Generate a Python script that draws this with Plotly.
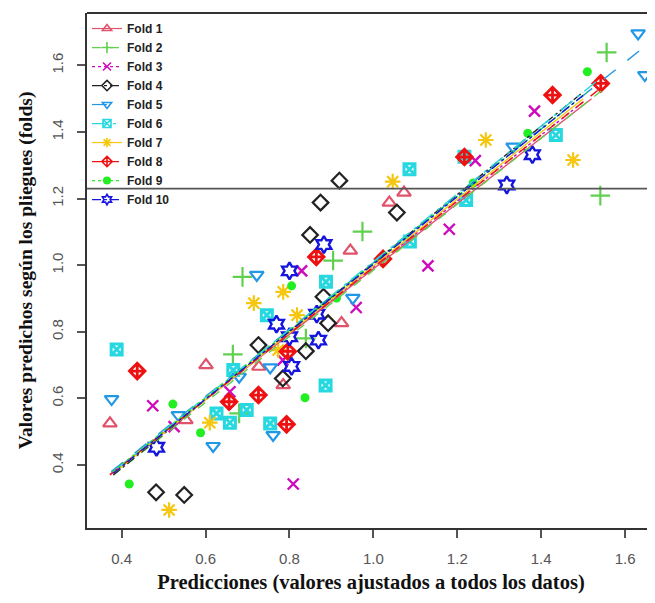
import plotly.graph_objects as go

fold_names = ["Fold 1", "Fold 2", "Fold 3", "Fold 4", "Fold 5",
              "Fold 6", "Fold 7", "Fold 8", "Fold 9", "Fold 10"]

fold1_x = [0.372, 0.553, 0.601, 0.727, 0.785, 0.924, 0.945, 1.038, 1.073]
fold1_y = [0.525, 0.535, 0.700, 0.695, 0.640, 0.826, 1.044, 1.188, 1.218]

fold2_x = [0.665, 0.680, 0.688, 0.839, 0.904, 0.974, 1.541, 1.556]
fold2_y = [0.732, 0.555, 0.965, 0.780, 1.014, 1.101, 1.209, 1.639]

fold3_x = [0.474, 0.525, 0.658, 0.784, 0.809, 0.829, 0.959, 1.130, 1.181, 1.243, 1.384]
fold3_y = [0.578, 0.515, 0.620, 0.715, 0.343, 0.983, 0.873, 0.998, 1.108, 1.314, 1.463]

fold4_x = [0.482, 0.549, 0.726, 0.784, 0.839, 0.849, 0.874, 0.881, 0.892, 0.919, 1.056]
fold4_y = [0.318, 0.310, 0.760, 0.660, 0.742, 1.091, 1.188, 0.905, 0.826, 1.254, 1.158]

fold5_x = [0.376, 0.535, 0.618, 0.680, 0.722, 0.754, 0.761, 0.951, 1.333, 1.631, 1.647]
fold5_y = [0.598, 0.550, 0.457, 0.665, 0.971, 0.693, 0.490, 0.902, 1.356, 1.696, 1.571]

fold6_x = [0.388, 0.626, 0.658, 0.666, 0.698, 0.746, 0.754, 0.886, 0.887, 1.086, 1.087, 1.217, 1.221, 1.435]
fold6_y = [0.747, 0.555, 0.527, 0.685, 0.565, 0.850, 0.525, 0.639, 0.950, 1.288, 1.071, 1.326, 1.196, 1.391]

fold7_x = [0.513, 0.610, 0.715, 0.773, 0.785, 0.818, 1.046, 1.268, 1.476]
fold7_y = [0.265, 0.527, 0.886, 0.745, 0.920, 0.850, 1.251, 1.376, 1.316]

fold8_x = [0.437, 0.656, 0.726, 0.793, 0.796, 0.864, 1.023, 1.217, 1.427, 1.542]
fold8_y = [0.682, 0.590, 0.610, 0.522, 0.741, 1.025, 1.019, 1.325, 1.511, 1.546]

fold9_x = [0.418, 0.522, 0.588, 0.805, 0.837, 0.912, 1.238, 1.368, 1.510]
fold9_y = [0.343, 0.583, 0.497, 0.938, 0.602, 0.901, 1.247, 1.396, 1.581]

fold10_x = [0.483, 0.769, 0.800, 0.800, 0.805, 0.865, 0.869, 0.882, 1.318, 1.379]
fold10_y = [0.453, 0.823, 0.785, 0.983, 0.696, 0.853, 0.775, 1.062, 1.241, 1.332]

# fitted line ends per fold (start x, start y, end x, end y)
fit_x0 = [0.372, 0.380, 0.380, 0.380, 0.375, 0.390, 0.385, 0.372, 0.380, 0.380]
fit_y0 = [0.372, 0.370, 0.380, 0.370, 0.380, 0.390, 0.380, 0.370, 0.380, 0.375]
fit_x1 = [1.520, 1.550, 1.500, 1.500, 1.645, 1.530, 1.500, 1.540, 1.510, 1.500]
fit_y1 = [1.500, 1.530, 1.490, 1.520, 1.655, 1.550, 1.500, 1.530, 1.520, 1.510]

h_line_value = 1.23

x_ticks = [0.4, 0.6, 0.8, 1.0, 1.2, 1.4, 1.6]
y_ticks = [0.4, 0.6, 0.8, 1.0, 1.2, 1.4, 1.6]
tick_text = ["0.4", "0.6", "0.8", "1.0", "1.2", "1.4", "1.6"]

xs = [fold1_x, fold2_x, fold3_x, fold4_x, fold5_x, fold6_x, fold7_x, fold8_x, fold9_x, fold10_x]
ys = [fold1_y, fold2_y, fold3_y, fold4_y, fold5_y, fold6_y, fold7_y, fold8_y, fold9_y, fold10_y]

colors = ["#DF536B", "#61D04F", "#CD0BBC", "#222222", "#2297E6",
          "#28D8E0", "#F5C710", "#EE1111", "#22EE22", "#1515DD"]
symbols = ["triangle-up-open", "cross-thin-open", "x-thin-open", "diamond-open",
           "triangle-down-open", "square-x-open", "asterisk-open",
           "diamond-cross-open", "circle", "hexagram-open"]
sizes = [12, 14, 11, 12, 12, 11, 13, 12, 9, 13]
widths = [2.2, 2.2, 2.4, 2.2, 2.2, 3.0, 2.2, 2.8, 0, 2.4]
dashes = ["solid", "dash", "dot", "dashdot", "longdash", "longdashdot",
          "solid", "dash", "dot", "dashdot"]

fig = go.Figure()

for i in range(10):
    fig.add_trace(go.Scatter(
        x=xs[i], y=ys[i], mode="markers", showlegend=False,
        marker=dict(symbol=symbols[i], size=sizes[i], color=colors[i],
                    line=dict(color=colors[i], width=widths[i])),
    ))

for i in range(10):
    fig.add_trace(go.Scatter(
        x=[fit_x0[i], fit_x1[i]], y=[fit_y0[i], fit_y1[i]], mode="lines",
        showlegend=False, line=dict(color=colors[i], width=1.4, dash=dashes[i]),
    ))

for i in range(10):
    fig.add_trace(go.Scatter(
        x=[None], y=[None], mode="lines+markers", name=f"<b>{fold_names[i]}</b>",
        marker=dict(symbol=symbols[i], size=8, color=colors[i],
                    line=dict(color=colors[i], width=min(widths[i], 1.6))),
        line=dict(color=colors[i], width=1.2, dash=dashes[i]),
    ))

fig.add_hline(y=h_line_value, line=dict(color="#555555", width=1.6))
fig.add_shape(type="line", xref="paper", yref="paper", x0=0, x1=1, y0=1, y1=1,
              line=dict(color="#333333", width=2))

fig.update_xaxes(
    range=[0.3173, 1.6713], tickvals=x_ticks, ticktext=tick_text,
    showgrid=False, zeroline=False, showline=True, linecolor="#333333", linewidth=2,
    ticks="outside", ticklen=8, tickwidth=1.5, tickcolor="#555555",
    tickfont=dict(family="Liberation Sans, Arial", size=15, color="#555555"),
    ticklabelstandoff=8,
    title=dict(text="<b>Predicciones (valores ajustados a todos los datos)</b>",
               font=dict(family="Liberation Serif, Times New Roman", size=20.5, color="#111111"),
               standoff=9),
)
fig.update_yaxes(
    range=[0.2108, 1.7574], tickvals=y_ticks, ticktext=tick_text,
    showgrid=False, zeroline=False, showline=True, linecolor="#333333", linewidth=2,
    ticks="outside", ticklen=8, tickwidth=1.5, tickcolor="#555555", tickangle=-90,
    tickfont=dict(family="Liberation Sans, Arial", size=15, color="#555555"),
    ticklabelstandoff=8,
    title=dict(text="<b>Valores predichos según los pliegues (folds)</b>",
               font=dict(family="Liberation Serif, Times New Roman", size=19.5, color="#111111"),
               standoff=11),
)

# page body has an 8px default margin; size the figure so the plot area
# lands at the reference's pixel position
fig.update_layout(
    width=647, height=595,
    margin=dict(l=79, r=0, t=5, b=75),
    plot_bgcolor="white", paper_bgcolor="white",
    legend=dict(x=0.0, y=0.998, xanchor="left", yanchor="top",
                bgcolor="rgba(255,255,255,0)", borderwidth=0,
                font=dict(family="Liberation Sans, Arial", size=12, color="#222222"),
                itemwidth=30, tracegroupgap=0),
)

fig.write_html("out.html")
